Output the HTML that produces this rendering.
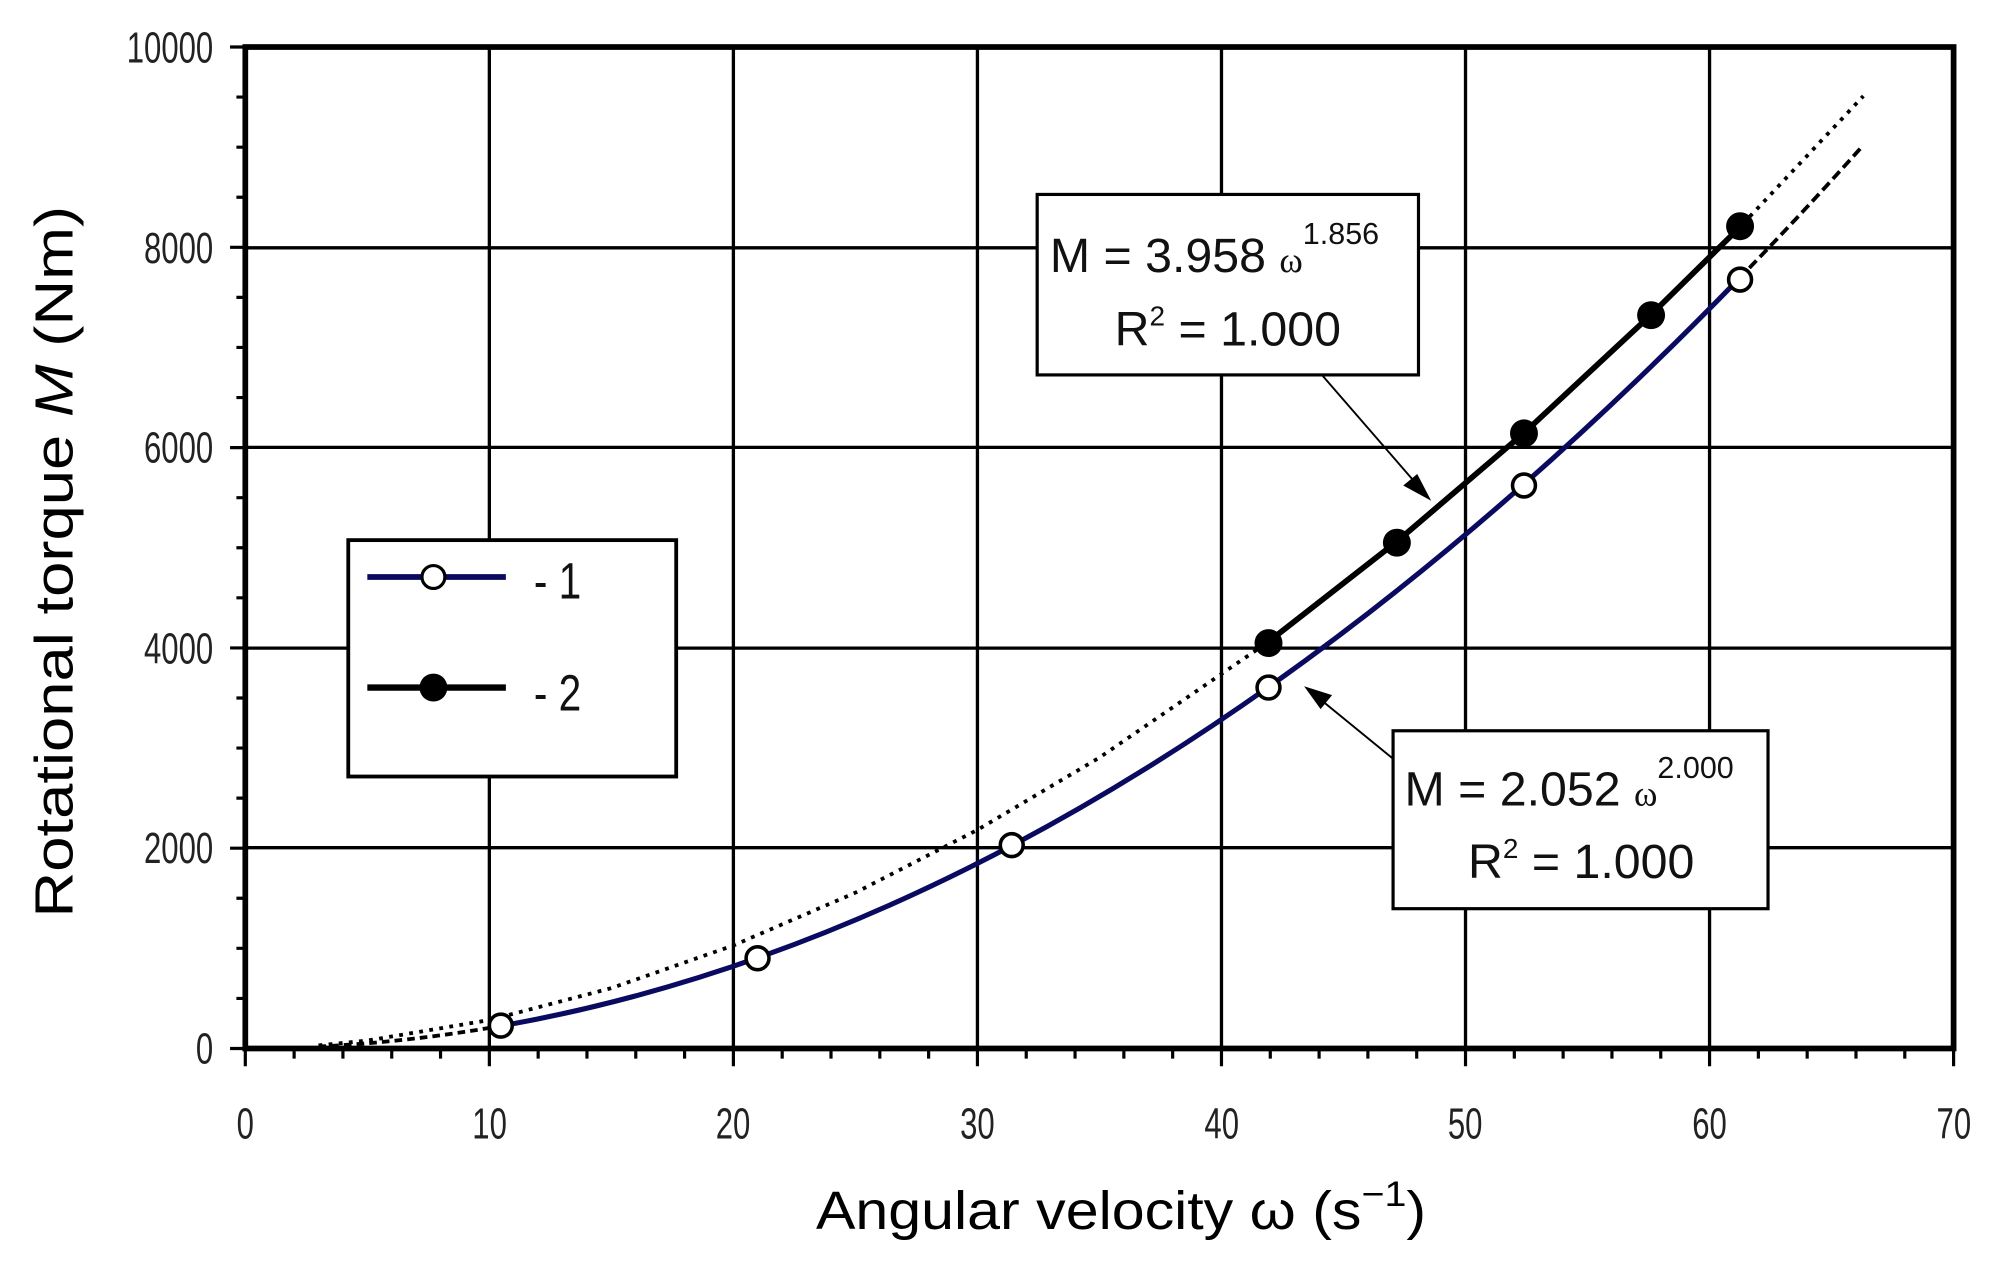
<!DOCTYPE html>
<html><head><meta charset="utf-8"><style>html,body{margin:0;padding:0;background:#fff}svg{display:block}</style></head>
<body>
<svg width="1993" height="1262" viewBox="0 0 1568 993" preserveAspectRatio="none" xmlns="http://www.w3.org/2000/svg" font-family="Liberation Sans, Arial, sans-serif">
<rect width="1568" height="993" fill="#fff"/>
<!-- grid -->
<g stroke="#000" stroke-width="2.6">
<line x1="385" y1="37" x2="385" y2="825"/><line x1="577" y1="37" x2="577" y2="825"/><line x1="769" y1="37" x2="769" y2="825"/><line x1="961" y1="37" x2="961" y2="825"/><line x1="1153" y1="37" x2="1153" y2="825"/><line x1="1345" y1="37" x2="1345" y2="825"/>
<line x1="193" y1="195" x2="1537" y2="195"/><line x1="193" y1="352" x2="1537" y2="352"/><line x1="193" y1="510" x2="1537" y2="510"/><line x1="193" y1="667" x2="1537" y2="667"/>
</g>
<!-- ticks -->
<g stroke="#000" stroke-width="2.5">
<path d="M193 825v14M231.4 825v8M269.8 825v8M308.2 825v8M346.6 825v8M385 825v14M423.4 825v8M461.8 825v8M500.2 825v8M538.6 825v8M577 825v14M615.4 825v8M653.8 825v8M692.2 825v8M730.6 825v8M769 825v14M807.4 825v8M845.8 825v8M884.2 825v8M922.6 825v8M961 825v14M999.4 825v8M1037.8 825v8M1076.2 825v8M1114.6 825v8M1153 825v14M1191.4 825v8M1229.8 825v8M1268.2 825v8M1306.6 825v8M1345 825v14M1383.4 825v8M1421.8 825v8M1460.2 825v8M1498.6 825v8M1537 825v14"/>
<path d="M193 825h-12M193 785.6h-7M193 746.2h-7M193 706.8h-7M193 667.4h-12M193 628h-7M193 588.6h-7M193 549.2h-7M193 509.8h-12M193 470.4h-7M193 431h-7M193 391.6h-7M193 352.2h-12M193 312.8h-7M193 273.4h-7M193 234h-7M193 194.6h-12M193 155.2h-7M193 115.8h-7M193 76.4h-7M193 37h-12"/>
</g>
<rect x="193" y="37" width="1344" height="788" fill="none" stroke="#000" stroke-width="4.5"/>
<!-- tick labels -->
<g font-size="34" fill="#222" text-anchor="middle">
<g transform="scale(0.72,1)">
<text x="268" y="896">0</text><text x="535" y="896">10</text><text x="801" y="896">20</text><text x="1068" y="896">30</text><text x="1335" y="896">40</text><text x="1601" y="896">50</text><text x="1868" y="896">60</text><text x="2135" y="896">70</text>
</g>
<g transform="scale(0.72,1)" text-anchor="end">
<text x="233" y="837">0</text><text x="233" y="679">2000</text><text x="233" y="522">4000</text><text x="233" y="364">6000</text><text x="233" y="207">8000</text><text x="233" y="49">10000</text>
</g>
</g>
<!-- axis titles -->
<text x="882" y="967" font-size="42" text-anchor="middle" textLength="480" lengthAdjust="spacingAndGlyphs">Angular velocity ω (s<tspan dy="-18" font-size="28">−1</tspan><tspan dy="18">)</tspan></text>
<text transform="translate(57,442) rotate(-90)" font-size="42" text-anchor="middle" textLength="560" lengthAdjust="spacingAndGlyphs">Rotational torque <tspan font-style="italic">M</tspan> (Nm)</text>
<!-- curve 2 dotted fit -->
<polyline fill="none" stroke="#000" stroke-width="3" stroke-dasharray="3,5" points="250.6,822.6 289,818.8 385,802.6 481,777.5 577,743.9 673,702.4 769,653 865,596.1 997.5,505.3 1099,426.1 1199,340.7 1299,247.6 1368,179.6 1466,75.6"/>
<!-- curve 1 -->
<path d="M250.6 823.5 Q321.8 819.9 394 807.3" fill="none" stroke="#000" stroke-width="3" stroke-dasharray="6,4"/>
<path d="M1368 219.4 Q1417 169 1466 114.2" fill="none" stroke="#000" stroke-width="3" stroke-dasharray="8,4"/>
<path d="M394 807.3 Q880.6 721.4 1368 219.4" fill="none" stroke="#0a0a60" stroke-width="4"/>
<!-- series 2 line -->
<polyline fill="none" stroke="#000" stroke-width="4.5" points="997.5,505.3 1099,426.1 1199,340.7 1299,247.6 1368,179.6"/>
<!-- markers -->
<g fill="#fff" stroke="#000" stroke-width="2.8">
<circle cx="394" cy="807" r="9"/><circle cx="596" cy="754" r="9"/><circle cx="796" cy="665" r="9"/><circle cx="998" cy="541" r="9"/><circle cx="1199" cy="382" r="9"/><circle cx="1369" cy="220" r="9"/>
</g>
<g fill="#000">
<circle cx="998" cy="506" r="11"/><circle cx="1099" cy="427" r="11"/><circle cx="1199" cy="341" r="11"/><circle cx="1299" cy="248" r="11"/><circle cx="1369" cy="178" r="11"/>
</g>
<!-- legend -->
<rect x="274" y="425" width="258" height="186" fill="#fff" stroke="#000" stroke-width="3"/>
<line x1="289" y1="454" x2="398" y2="454" stroke="#0a0a60" stroke-width="4.5"/>
<circle cx="341" cy="454" r="9" fill="#fff" stroke="#000" stroke-width="2.5"/>
<line x1="289" y1="541" x2="398" y2="541" stroke="#000" stroke-width="5"/>
<circle cx="341" cy="541" r="11" fill="#000"/>
<g font-size="40" fill="#111" transform="scale(0.8,1)"><text x="525" y="471">- 1</text><text x="525" y="559">- 2</text></g>
<!-- annotations -->
<line x1="1040" y1="295" x2="1118" y2="385" stroke="#000" stroke-width="1.5"/>
<polygon points="1126,394 1104,382 1115,373" fill="#000"/>
<line x1="1096" y1="597" x2="1036" y2="548" stroke="#000" stroke-width="1.5"/>
<polygon points="1026,540 1048,547 1039,558" fill="#000"/>
<rect x="816" y="153" width="300" height="142" fill="#fff" stroke="#000" stroke-width="2.5"/>
<text x="826" y="214" font-size="38" fill="#111">M = 3.958 <tspan font-size="28" font-family="Liberation Serif, serif">ω</tspan><tspan font-size="24" dy="-22">1.856</tspan></text>
<text x="966" y="272" font-size="38" fill="#111" text-anchor="middle">R<tspan font-size="22" dy="-16">2</tspan><tspan dy="16"> = 1.000</tspan></text>
<rect x="1096" y="575" width="295" height="140" fill="#fff" stroke="#000" stroke-width="2.5"/>
<text x="1105" y="634" font-size="38" fill="#111">M = 2.052 <tspan font-size="28" font-family="Liberation Serif, serif">ω</tspan><tspan font-size="24" dy="-22">2.000</tspan></text>
<text x="1244" y="691" font-size="38" fill="#111" text-anchor="middle">R<tspan font-size="22" dy="-16">2</tspan><tspan dy="16"> = 1.000</tspan></text>
</svg>
</body></html>
